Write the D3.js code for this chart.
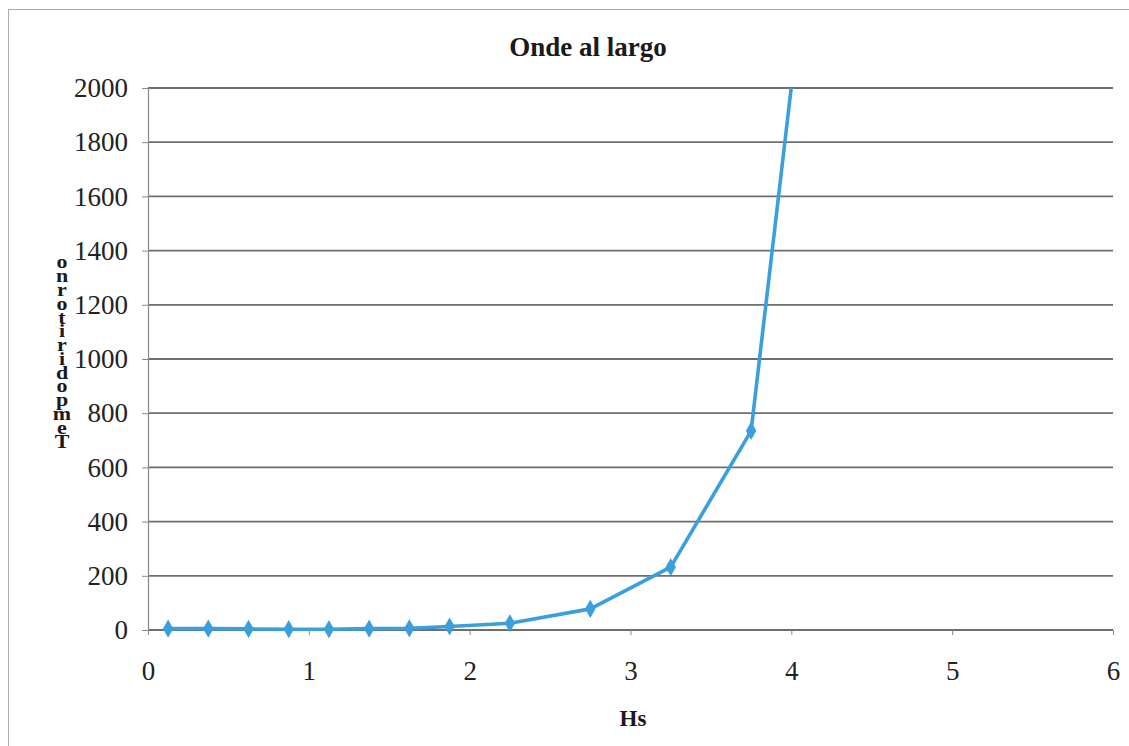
<!DOCTYPE html>
<html>
<head>
<meta charset="utf-8">
<script src="https://cdn.jsdelivr.net/npm/d3@7"></script>
<style>
  body { margin: 0; background: #fff; }
  svg, svg text { font-family: "Liberation Serif", "DejaVu Serif", serif; }
</style>
</head>
<body>
<div id="chart"></div>
<script>
var chartTitle = "Onde al largo";
var xLabel = "Hs";
var yLabel = "Tempo di ritorno";
var hsValues = [0.125, 0.375, 0.625, 0.875, 1.125, 1.375, 1.625, 1.875, 2.25, 2.75, 3.25, 3.75, 4.0];
var returnPeriod = [5, 5, 4, 3, 3, 5, 6, 13, 25, 78, 232, 735, 2005];
var xTicks = [0, 1, 2, 3, 4, 5, 6];
var yTicks = [0, 200, 400, 600, 800, 1000, 1200, 1400, 1600, 1800, 2000];

var W = 1129, H = 746;
var margin = {top: 88, right: 16, bottom: 116, left: 148};
var width = W - margin.left - margin.right;
var height = H - margin.top - margin.bottom;

var svg = d3.select("#chart").append("svg")
    .attr("width", W)
    .attr("height", H);

// outer frame
svg.append("rect")
    .attr("x", 8.5).attr("y", 9.5)
    .attr("width", W - 4).attr("height", H)
    .attr("fill", "none")
    .attr("stroke", "#aaa")
    .attr("stroke-width", 1);

var xScale = d3.scaleLinear().domain([0, 6]).range([0, width]);
var yScale = d3.scaleLinear().domain([0, 2000]).range([height, 0]);

var g = svg.append("g")
    .attr("transform", "translate(" + margin.left + "," + margin.top + ")");

g.append("defs").append("clipPath")
    .attr("id", "mask")
    .append("rect")
    .attr("x", -10).attr("y", 0)
    .attr("width", width + 20).attr("height", height + 10);

// gridlines
g.selectAll(".grid")
    .data(yTicks)
    .enter().append("line")
    .attr("class", "grid")
    .attr("x1", 0).attr("x2", width)
    .attr("y1", function(d) { return yScale(d); })
    .attr("y2", function(d) { return yScale(d); })
    .attr("stroke", "#6e6e6e")
    .attr("stroke-width", 1.8);

// y axis
var yAxis = d3.axisLeft(yScale).tickValues(yTicks).tickSize(6).tickPadding(14)
    .tickFormat(d3.format("d"));
var gY = g.append("g").call(yAxis);
gY.attr("font-family", null).attr("font-size", null);
gY.select(".domain").attr("stroke", "#888").attr("stroke-width", 1.2);
gY.selectAll(".tick line").attr("stroke", "#888");
gY.selectAll("text")
    .style("font-size", "27px")
    .attr("fill", "#222");

// x axis
var xAxis = d3.axisBottom(xScale).tickValues(xTicks).tickSize(5).tickPadding(26)
    .tickFormat(d3.format("d"));
var gX = g.append("g")
    .attr("transform", "translate(0," + height + ")")
    .call(xAxis);
gX.attr("font-family", null).attr("font-size", null);
gX.select(".domain").remove();
gX.selectAll(".tick line").attr("stroke", "#888");
gX.selectAll("text")
    .style("font-size", "27px")
    .attr("fill", "#222");

// series
var points = hsValues.map(function(x, i) { return {x: x, y: returnPeriod[i]}; });

var line = d3.line()
    .x(function(d) { return xScale(d.x); })
    .y(function(d) { return yScale(d.y); });

var gData = g.append("g").attr("clip-path", "url(#mask)");

gData.append("path")
    .datum(points)
    .attr("fill", "none")
    .attr("stroke", "#3a9fdc")
    .attr("stroke-width", 3.6)
    .attr("stroke-linejoin", "round")
    .attr("d", line);

gData.selectAll(".marker")
    .data(points.slice(0, points.length - 1))
    .enter().append("path")
    .attr("class", "marker")
    .attr("d", d3.symbol().type(d3.symbolDiamond).size(95))
    .attr("transform", function(d) { return "translate(" + xScale(d.x) + "," + yScale(d.y) + ")"; })
    .attr("fill", "#3a9fdc");

// title
svg.append("text")
    .attr("x", 588).attr("y", 56)
    .attr("text-anchor", "middle")
    .style("font-size", "27px")
    .style("font-weight", "bold")
    .attr("fill", "#1a1a1a")
    .text(chartTitle);

// x label
svg.append("text")
    .attr("x", 633).attr("y", 726)
    .attr("text-anchor", "middle")
    .style("font-size", "23px")
    .style("font-weight", "bold")
    .attr("fill", "#1a1a1a")
    .text(xLabel);

// y label: letters stacked upright, read bottom to top, squeezed vertically
svg.append("text")
    .attr("transform", "translate(62,252) scale(1,0.85)")
    .style("writing-mode", "vertical-rl")
    .style("text-orientation", "upright")
    .style("font-size", "22px")
    .style("font-weight", "bold")
    .style("letter-spacing", "-7.5px")
    .attr("fill", "#1a1a1a")
    .text(yLabel.replace(/ /g, "").split("").reverse().join(""));
</script>
</body>
</html>
